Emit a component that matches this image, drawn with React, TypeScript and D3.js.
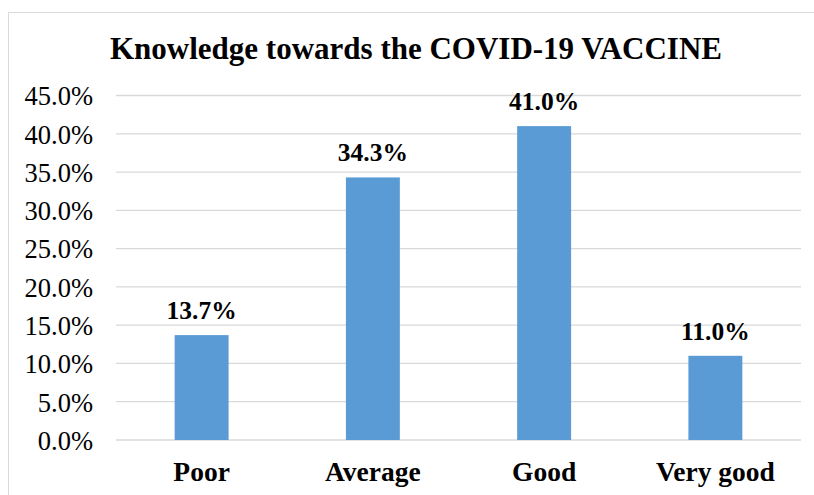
import React from "react";
import * as d3 from "d3";

const categories = ["Poor", "Average", "Good", "Very good"];
const values = [13.7, 34.3, 41.0, 11.0];
const yTicks = [0, 5, 10, 15, 20, 25, 30, 35, 40, 45];
const title = "Knowledge towards the COVID-19 VACCINE";

export default function App() {
  const W = 814, H = 495;
  const left = 116, right = 801, top = 95.5, bottom = 440;
  const x = d3.scaleBand<string>().domain(categories).range([left, right]).paddingInner(0.685).paddingOuter(0.3425);
  const y = d3.scaleLinear().domain([0, 45]).range([bottom, top]);
  const font = '"Liberation Serif"';
  return (
    <svg width={W} height={H} style={{ position: "absolute", left: 0, top: 0 }}>
      <rect x={0} y={0} width={W} height={H} fill="#fff" />
      <rect x={8.5} y={12.5} width={W} height={H} fill="#fff" stroke="#d9d9d9" />
      <text x={416} y={59} textAnchor="middle" style={{ fontFamily: font }} fontWeight="bold" fontSize={31} fill="#000">{title}</text>
      {yTicks.map((t) => (
        <g key={t}>
          <line x1={left} x2={right} y1={y(t)} y2={y(t)} stroke="#d9d9d9" strokeWidth={1.3} />
          <text x={93} y={y(t)} dy="0.37em" textAnchor="end" style={{ fontFamily: font }} fontSize={26.5} fill="#000">{t.toFixed(1)}%</text>
        </g>
      ))}
      {categories.map((c, i) => (
        <g key={c}>
          <rect x={x(c)} y={y(values[i])} width={x.bandwidth()} height={y(0) - y(values[i])} fill="#5b9bd5" />
          <text x={(x(c) as number) + x.bandwidth() / 2} y={y(values[i]) - 16} textAnchor="middle" style={{ fontFamily: font }} fontWeight="bold" fontSize={25.5} fill="#000">{values[i].toFixed(1)}%</text>
          <text x={(x(c) as number) + x.bandwidth() / 2} y={481} textAnchor="middle" style={{ fontFamily: font }} fontWeight="bold" fontSize={27.5} fill="#000">{c}</text>
        </g>
      ))}
    </svg>
  );
}
